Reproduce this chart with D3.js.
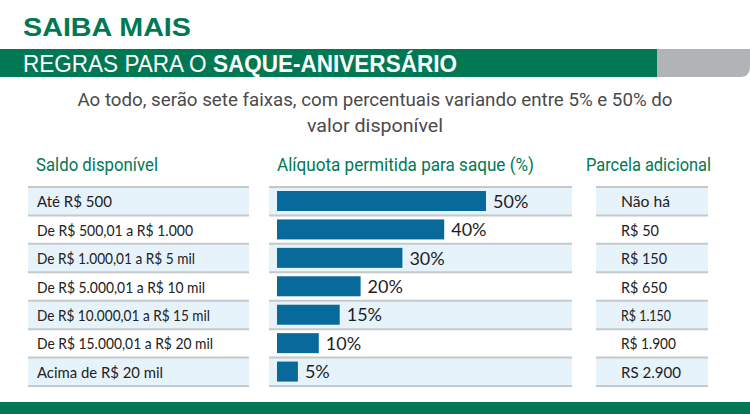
<!DOCTYPE html>
<html>
<head>
<meta charset="utf-8">
<script src="https://cdn.jsdelivr.net/npm/d3@7"></script>
<style>
  body { margin: 0; background: #fff; }
  svg { display: block; }
</style>
</head>
<body>
<svg id="chart"></svg>
<script>
const saldo = [
    "Até R$ 500",
    "De R$ 500,01 a R$ 1.000",
    "De R$ 1.000,01 a R$ 5 mil",
    "De R$ 5.000,01 a R$ 10 mil",
    "De R$ 10.000,01 a R$ 15 mil",
    "De R$ 15.000,01 a R$ 20 mil",
    "Acima de R$ 20 mil"
];
const aliquota = [50, 40, 30, 20, 15, 10, 5];
const parcela = ["Não há", "R$ 50", "R$ 150", "R$ 650", "R$ 1.150", "R$ 1.900", "RS 2.900"];
const headers = ["Saldo disponível", "Alíquota permitida para saque (%)", "Parcela adicional"];

const width = 750, height = 414;
const green = "#007853";
const svg = d3.select("#chart").attr("width", width).attr("height", height);

// squeeze/stretch a text node to a target width
function fit(sel, w) {
    sel.attr("textLength", w).attr("lengthAdjust", "spacingAndGlyphs");
}

// title
svg.append("text").attr("x", 23).attr("y", 35.5)
    .attr("font-family", "Liberation Sans, Arial, sans-serif")
    .attr("font-weight", "bold").attr("font-size", 25)
    .attr("fill", green).text("SAIBA MAIS").call(fit, 168);

// green band + grey tab
svg.append("path")
    .attr("d", "M657,49 H750 V67 Q750,77 740,77 H657 Z")
    .attr("fill", "#b2b3b5");
svg.append("rect").attr("x", 0).attr("y", 49).attr("width", 657).attr("height", 28).attr("fill", green);

const sub = svg.append("text").attr("x", 23).attr("y", 71.5)
    .attr("font-family", "Liberation Sans, Arial, sans-serif")
    .attr("font-size", 23).attr("fill", "#fff");
sub.append("tspan").text("REGRAS PARA O ");
sub.append("tspan").attr("font-weight", "bold").text("SAQUE-ANIVERSÁRIO");
sub.call(fit, 434);

// intro
const intro = ["Ao todo, serão sete faixas, com percentuais variando entre 5% e 50% do", "valor disponível"];
const introW = [595, 136];
intro.forEach((t, i) => {
    svg.append("text").attr("x", 375).attr("y", 106 + i * 26)
        .attr("text-anchor", "middle")
        .attr("font-family", "Roboto, sans-serif").attr("font-size", 18)
        .attr("fill", "#4a4a4a").text(t).call(fit, introW[i]);
});

// columns
const cols = [
    { x0: 28, x1: 249, hx: 36, hw: 122 },
    { x0: 269, x1: 572, hx: 277, hw: 257 },
    { x0: 596, x1: 708, hx: 586, hw: 125 }
];

const y = d3.scaleBand().domain(d3.range(aliquota.length)).range([187, 386]);
const x = d3.scaleLinear().domain([0, 50]).range([277, 486]);

cols.forEach((c, ci) => {
    svg.append("text").attr("x", c.hx).attr("y", 171)
        .attr("font-family", "Roboto, sans-serif").attr("font-size", 19)
        .attr("fill", green).text(headers[ci]).call(fit, c.hw);

    const g = svg.append("g");
    g.selectAll("rect").data(aliquota).join("rect")
        .attr("x", c.x0).attr("width", c.x1 - c.x0)
        .attr("y", (d, i) => y(i)).attr("height", y.bandwidth())
        .attr("fill", (d, i) => i % 2 === 0 ? "#e7f3fb" : "#fff");
    g.selectAll("line").data(d3.range(aliquota.length + 1)).join("line")
        .attr("x1", c.x0).attr("x2", c.x1)
        .attr("y1", i => i < aliquota.length ? y(i) : y.range()[1])
        .attr("y2", i => i < aliquota.length ? y(i) : y.range()[1])
        .attr("stroke", "#c4c8cb").attr("stroke-width", 2);
});

const rowFont = "Lato, 'Open Sans', sans-serif";
const saldoW = [75, 156, 158, 168, 173, 176, 126];
const parcelaW = [49, 38, 46, 46, 50, 55, 60];

svg.append("g").selectAll("text").data(saldo).join("text")
    .attr("x", 37).attr("y", (d, i) => y(i) + y.bandwidth() / 2 + 6)
    .attr("font-family", rowFont).attr("font-size", 15).attr("fill", "#222")
    .text(d => d)
    .each(function(d, i) { d3.select(this).call(fit, saldoW[i]); });

// bars
svg.append("g").selectAll("rect").data(aliquota).join("rect")
    .attr("x", x(0)).attr("y", (d, i) => y(i) + 4)
    .attr("width", d => x(d) - x(0)).attr("height", 20)
    .attr("fill", "#08699b");

svg.append("g").selectAll("text").data(aliquota).join("text")
    .attr("x", d => x(d) + 7).attr("y", (d, i) => y(i) + y.bandwidth() / 2 + 6.5)
    .attr("font-family", rowFont).attr("font-size", 18).attr("fill", "#1e1e1e")
    .text(d => d + "%");

svg.append("g").selectAll("text").data(parcela).join("text")
    .attr("x", 621).attr("y", (d, i) => y(i) + y.bandwidth() / 2 + 6)
    .attr("font-family", rowFont).attr("font-size", 15).attr("fill", "#222")
    .text(d => d)
    .each(function(d, i) { d3.select(this).call(fit, parcelaW[i]); });

// bottom band
svg.append("rect").attr("x", 0).attr("y", 402).attr("width", width).attr("height", 12).attr("fill", green);
</script>
</body>
</html>
